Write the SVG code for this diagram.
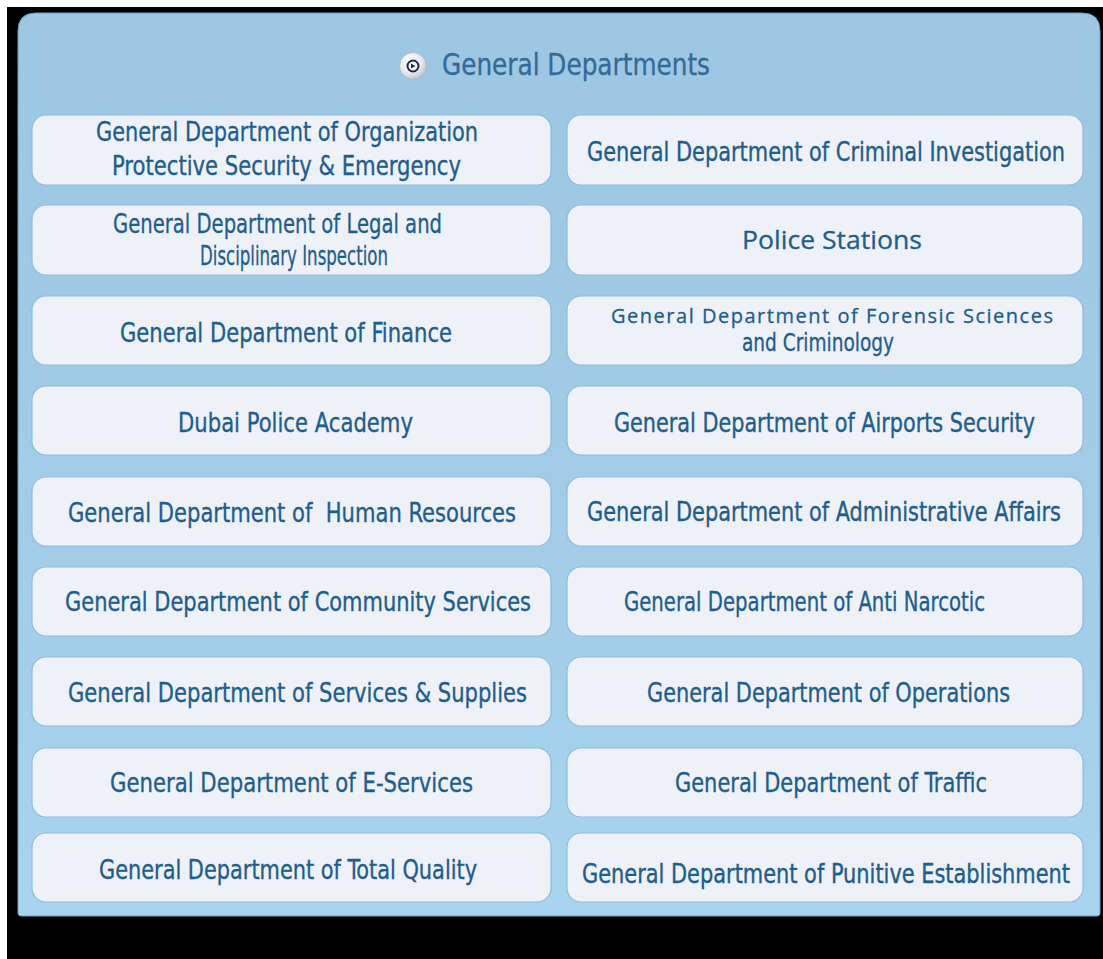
<svg xmlns="http://www.w3.org/2000/svg" width="1103" height="959" viewBox="0 0 1103 959">
  <defs>
    <linearGradient id="panelGrad" x1="0" y1="0" x2="0" y2="1">
      <stop offset="0" stop-color="#9dc6e2"/>
      <stop offset="0.6" stop-color="#a2cce8"/>
      <stop offset="1" stop-color="#a8d4ef"/>
    </linearGradient>
    <radialGradient id="iconGrad" cx="0.4" cy="0.35" r="0.7">
      <stop offset="0" stop-color="#ffffff"/>
      <stop offset="0.6" stop-color="#e6eaee"/>
      <stop offset="1" stop-color="#b4bec8"/>
    </radialGradient>
    <style>
      .box { fill: #eef2f8; stroke: #8fbcdc; stroke-width: 1.2; }
      .t { font-family: "Liberation Sans Narrow", "Arial Narrow", "DejaVu Sans Condensed", "Liberation Sans", sans-serif; font-size: 27px; fill: #1f5d8d; stroke: #1f5d8d; stroke-width: 0.35; text-anchor: middle; }
      .tn { font-family: "Liberation Sans Narrow", "Arial Narrow", "DejaVu Sans Condensed", sans-serif; font-size: 26px; fill: #1f5d8d; stroke: #1f5d8d; stroke-width: 0.3; text-anchor: middle; }
      .to { font-family: "Open Sans", "Noto Sans", "DejaVu Sans", sans-serif; fill: #1f5d8d; stroke: #1f5d8d; stroke-width: 0.3; text-anchor: middle; }
      .title { font-family: "Liberation Sans Narrow", "Arial Narrow", "DejaVu Sans Condensed", sans-serif; font-size: 30px; fill: #336a98; stroke: #336a98; stroke-width: 0.3; text-anchor: middle; }
    </style>
  </defs>

  <rect x="0" y="0" width="1103" height="959" fill="#ffffff"/>
  <rect x="7" y="7" width="1096" height="952" fill="#000000"/>

  <g id="panel">
    <path d="M18,31 Q18,13 36,13 L1082,13 Q1100,13 1100,31 L1100,913 Q1100,916 1097,916 L21,916 Q18,916 18,913 Z" fill="url(#panelGrad)" stroke="#6e9ec4" stroke-width="1"/>
  </g>

  <g id="title">
    <circle cx="413" cy="66" r="13.5" fill="url(#iconGrad)" stroke="#aab4be" stroke-width="0.8"/>
    <circle cx="413" cy="66" r="5.5" fill="#f4f6f8" stroke="#1c2a50" stroke-width="2"/>
    <path d="M411,63.5 L415.5,66 L411,68.5 Z" fill="#1c2a50"/>
    <text class="title" x="576" y="75" textLength="268" lengthAdjust="spacingAndGlyphs">General Departments</text>
  </g>

  <g id="connectors"/>

  <!-- Left column -->
  <g id="n-organization">
    <rect class="box" x="32" y="115" width="519" height="70" rx="14"/>
    <text class="t" x="287" y="141" textLength="382" lengthAdjust="spacingAndGlyphs">General Department of Organization</text>
    <text class="t" x="286.5" y="175" textLength="349" lengthAdjust="spacingAndGlyphs">Protective Security &amp; Emergency</text>
  </g>
  <g id="n-legal">
    <rect class="box" x="32" y="205" width="519" height="70" rx="14"/>
    <text class="tn" x="277.5" y="233" textLength="329" lengthAdjust="spacingAndGlyphs">General Department of Legal and</text>
    <text class="tn" x="294" y="265" textLength="188" lengthAdjust="spacingAndGlyphs">Disciplinary Inspection</text>
  </g>
  <g id="n-finance">
    <rect class="box" x="32" y="296" width="519" height="69" rx="14"/>
    <text class="t" x="286" y="342" textLength="332" lengthAdjust="spacingAndGlyphs">General Department of Finance</text>
  </g>
  <g id="n-academy">
    <rect class="box" x="32" y="386" width="519" height="69" rx="14"/>
    <text class="t" x="295.5" y="432" textLength="235" lengthAdjust="spacingAndGlyphs">Dubai Police Academy</text>
  </g>
  <g id="n-hr">
    <rect class="box" x="32" y="477" width="519" height="69" rx="14"/>
    <text class="t" x="292" y="522" textLength="448" lengthAdjust="spacingAndGlyphs" xml:space="preserve">General Department of  Human Resources</text>
  </g>
  <g id="n-community">
    <rect class="box" x="32" y="567" width="519" height="69" rx="14"/>
    <text class="t" x="298" y="611" textLength="466" lengthAdjust="spacingAndGlyphs">General Department of Community Services</text>
  </g>
  <g id="n-services">
    <rect class="box" x="32" y="657" width="519" height="69" rx="14"/>
    <text class="t" x="297.5" y="702" textLength="459" lengthAdjust="spacingAndGlyphs">General Department of Services &amp; Supplies</text>
  </g>
  <g id="n-eservices">
    <rect class="box" x="32" y="748" width="519" height="69" rx="14"/>
    <text class="t" x="291.5" y="792" textLength="363" lengthAdjust="spacingAndGlyphs">General Department of E-Services</text>
  </g>
  <g id="n-quality">
    <rect class="box" x="32" y="833" width="519" height="69" rx="14"/>
    <text class="t" x="288" y="879" textLength="378" lengthAdjust="spacingAndGlyphs">General Department of Total Quality</text>
  </g>

  <!-- Right column -->
  <g id="n-criminal">
    <rect class="box" x="567" y="115" width="516" height="70" rx="14"/>
    <text class="t" transform="translate(826,161) scale(1,1.1)" x="0" y="0" style="font-size:24.5px" textLength="478" lengthAdjust="spacingAndGlyphs">General Department of Criminal Investigation</text>
  </g>
  <g id="n-police-stations">
    <rect class="box" x="567" y="205" width="516" height="70" rx="14"/>
    <text class="to" x="832" y="249" style="font-size:26px" textLength="180" lengthAdjust="spacingAndGlyphs">Police Stations</text>
  </g>
  <g id="n-forensic">
    <rect class="box" x="567" y="296" width="516" height="69" rx="14"/>
    <text class="to" x="832" y="323" style="font-size:20px" textLength="442" lengthAdjust="spacing">General Department of Forensic Sciences</text>
    <text class="tn" x="818" y="351" style="font-size:24px" textLength="152" lengthAdjust="spacingAndGlyphs">and Criminology</text>
  </g>
  <g id="n-airports">
    <rect class="box" x="567" y="386" width="516" height="69" rx="14"/>
    <text class="t" transform="translate(824.5,432) scale(1,1.08)" x="0" y="0" style="font-size:25px" textLength="421" lengthAdjust="spacingAndGlyphs">General Department of Airports Security</text>
  </g>
  <g id="n-admin">
    <rect class="box" x="567" y="477" width="516" height="69" rx="14"/>
    <text class="t" transform="translate(824,521) scale(1,1.1)" x="0" y="0" style="font-size:24.5px" textLength="474" lengthAdjust="spacingAndGlyphs">General Department of Administrative Affairs</text>
  </g>
  <g id="n-narcotic">
    <rect class="box" x="567" y="567" width="516" height="69" rx="14"/>
    <text class="t" x="804.5" y="611" textLength="361" lengthAdjust="spacingAndGlyphs">General Department of Anti Narcotic</text>
  </g>
  <g id="n-operations">
    <rect class="box" x="567" y="657" width="516" height="69" rx="14"/>
    <text class="t" x="828.5" y="702" textLength="363" lengthAdjust="spacingAndGlyphs">General Department of Operations</text>
  </g>
  <g id="n-traffic">
    <rect class="box" x="567" y="748" width="516" height="69" rx="14"/>
    <text class="t" x="831" y="792" textLength="312" lengthAdjust="spacingAndGlyphs">General Department of Traffic</text>
  </g>
  <g id="n-punitive">
    <rect class="box" x="567" y="833" width="516" height="69" rx="14"/>
    <text class="t" transform="translate(826,883) scale(1,1.125)" x="0" y="0" style="font-size:24px" textLength="488" lengthAdjust="spacingAndGlyphs">General Department of Punitive Establishment</text>
  </g>
</svg>
